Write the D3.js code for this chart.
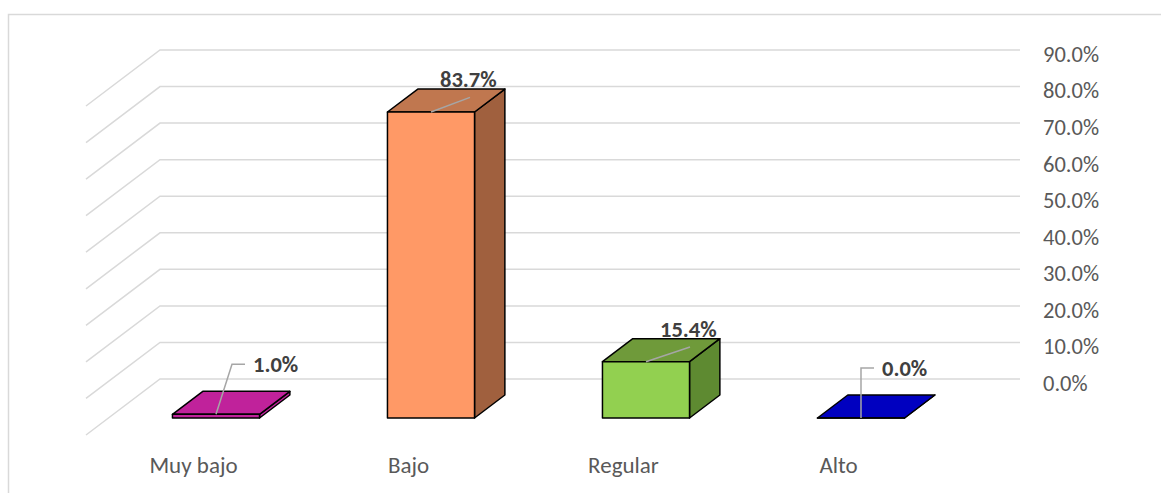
<!DOCTYPE html>
<html>
<head>
<meta charset="utf-8">
<script src="https://cdn.jsdelivr.net/npm/d3@7"></script>
<style>
  body { margin: 0; background: #fff; }
  svg text { font-family: Carlito, Lato, "Open Sans", sans-serif; }
</style>
</head>
<body>
<svg width="1161" height="493"></svg>
<script>
var categories = ["Muy bajo", "Bajo", "Regular", "Alto"]
var values = [0.010, 0.837, 0.154, 0.000]
var labels = ["1.0%", "83.7%", "15.4%", "0.0%"]
var ticks = [0, 0.1, 0.2, 0.3, 0.4, 0.5, 0.6, 0.7, 0.8, 0.9]
var tickLabels = ["0.0%", "10.0%", "20.0%", "30.0%", "40.0%", "50.0%", "60.0%", "70.0%", "80.0%", "90.0%"]

// front, top, side colours for each bar
var fronts = ["#c0229b", "#ff9966", "#92d050", "#0000c0"]
var tops = ["#c0229b", "#c0774f", "#6f9a3a", "#0000c0"]
var sides = ["#c0229b", "#a0603e", "#5e8a31", "#0000c0"]

var svg = d3.select("svg")

// depth of the floor, as a screen offset from back (z=0) to front (z=1)
var depthX = 74, depthY = 56
var zBack = 0.286, zFront = 0.696

var x = d3.scaleBand()
    .domain(categories)
    .range([160, 1020])
    .paddingInner(0.595)
    .paddingOuter(0.2975)

var y = d3.scaleLinear()
    .domain([0, 0.9])
    .range([379, 50])

function project(px, v, z) {
  return [px - z * depthX, y(v) + z * depthY]
}

function poly(pts) {
  return "M" + pts.map(function(p) { return p.join(",") }).join("L") + "Z"
}

// chart frame
svg.append("path")
    .attr("d", "M8.5,493V14.5H1161")
    .attr("fill", "none")
    .attr("stroke", "#d9d9d9")
    .attr("stroke-width", 1.5)

// grid: floor diagonal + back wall line
svg.append("g").selectAll("path")
    .data(ticks)
  .enter().append("path")
    .attr("fill", "none")
    .attr("stroke", "#d9d9d9")
    .attr("stroke-width", 1.5)
    .attr("d", function(t) {
      return "M" + project(160, t, 1) + "L" + project(160, t, 0) + "L" + project(1020, t, 0)
    })

svg.append("g").selectAll("text")
    .data(ticks)
  .enter().append("text")
    .attr("x", 1043)
    .attr("y", function(t) { return y(t) + 4 })
    .attr("dy", "0.35em")
    .attr("font-size", 22.5)
    .attr("fill", "#595959")
    .text(function(t, i) { return tickLabels[i] })

// bars
var bar = svg.append("g").selectAll("g")
    .data(categories)
  .enter().append("g")
    .attr("stroke", "#000")
    .attr("stroke-width", 1.5)
    .attr("stroke-linejoin", "round")

bar.append("path")
    .attr("fill", function(d, i) { return sides[i] })
    .attr("d", function(d, i) {
      var x1 = x(d) + x.bandwidth(), v = values[i]
      return poly([project(x1, 0, zFront), project(x1, v, zFront), project(x1, v, zBack), project(x1, 0, zBack)])
    })

bar.append("path")
    .attr("fill", function(d, i) { return tops[i] })
    .attr("d", function(d, i) {
      var x0 = x(d), x1 = x0 + x.bandwidth(), v = values[i]
      return poly([project(x0, v, zFront), project(x1, v, zFront), project(x1, v, zBack), project(x0, v, zBack)])
    })

bar.append("path")
    .attr("fill", function(d, i) { return fronts[i] })
    .attr("d", function(d, i) {
      var x0 = x(d), x1 = x0 + x.bandwidth(), v = values[i]
      return poly([project(x0, 0, zFront), project(x1, 0, zFront), project(x1, v, zFront), project(x0, v, zFront)])
    })

// data labels with leader lines
var leaderDx = [16, 39, 44, 0]
var lab = svg.append("g").selectAll("g")
    .data(categories)
  .enter().append("g")

lab.append("path")
    .attr("fill", "none")
    .attr("stroke", "#a6a6a6")
    .attr("stroke-width", 1.5)
    .attr("d", function(d, i) {
      var p = project(x(d) + x.bandwidth() / 2, values[i], zFront)
      if (values[i] > 0.05) {
        return "M" + p + "L" + [p[0] + leaderDx[i], p[1] - (y(0) - y(0.04))]
      }
      var top = p[1] - 50
      return "M" + p + "L" + [p[0] + leaderDx[i], top] + "L" + [p[0] + leaderDx[i] + 13, top]
    })

lab.append("text")
    .attr("font-size", 22.5)
    .attr("font-weight", "bold")
    .attr("fill", "#404040")
    .attr("x", function(d, i) {
      var p = project(x(d) + x.bandwidth() / 2, values[i], zFront)
      return values[i] > 0.05 ? p[0] + leaderDx[i] - 30 : p[0] + leaderDx[i] + 21
    })
    .attr("y", function(d, i) {
      var p = project(x(d) + x.bandwidth() / 2, values[i], zFront)
      return values[i] > 0.05 ? p[1] - (y(0) - y(0.04)) - 10 : p[1] - 50 + 8
    })
    .text(function(d, i) { return labels[i] })

// category labels along the front edge
svg.append("g").selectAll("text")
    .data(categories)
  .enter().append("text")
    .attr("x", function(d) { return project(x(d) + x.bandwidth() / 2, 0, 1)[0] })
    .attr("y", 473)
    .attr("text-anchor", "middle")
    .attr("font-size", 23)
    .attr("fill", "#595959")
    .text(function(d) { return d })
</script>
</body>
</html>
